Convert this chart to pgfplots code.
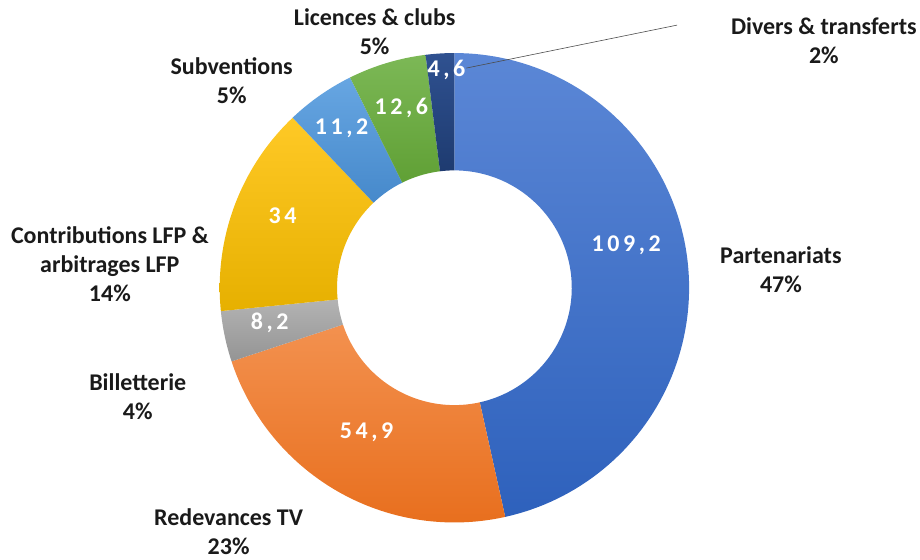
\documentclass[border=0pt]{standalone}
\usepackage{pgfplots}
\pgfplotsset{compat=1.18}
\usepackage{fontspec}
\setmainfont{Carlito}
\newfontfamily\valfont[LetterSpace=15]{Carlito}

\definecolor{partT}{HTML}{5B87D6}\definecolor{partB}{HTML}{2E61BC}
\definecolor{tvT}{HTML}{F3914F}\definecolor{tvB}{HTML}{E86F1E}
\definecolor{billT}{HTML}{B3B3B3}\definecolor{billB}{HTML}{949494}
\definecolor{lfpT}{HTML}{FFC926}\definecolor{lfpB}{HTML}{E6B000}
\definecolor{subT}{HTML}{67A6E2}\definecolor{subB}{HTML}{4689CB}
\definecolor{licT}{HTML}{7CB856}\definecolor{licB}{HTML}{60A035}
\definecolor{divT}{HTML}{2F5190}\definecolor{divB}{HTML}{1E3B70}
\definecolor{lbl}{HTML}{1A1A1A}

\tikzset{
  catlbl/.style={font=\fontsize{24bp}{29bp}\selectfont\bfseries, text=lbl, align=center},
  vallbl/.style={font=\valfont\fontsize{24bp}{28bp}\selectfont\bfseries, text=white},
}

% recettes (M EUR)
\def\vPart{109.2}
\def\vTV{54.9}
\def\vBill{8.2}
\def\vLFP{34}
\def\vSub{11.2}
\def\vLic{12.6}
\def\vDiv{4.6}
\pgfmathsetmacro\tot{\vPart+\vTV+\vBill+\vLFP+\vSub+\vLic+\vDiv}
\pgfmathsetmacro\aA{90}
\pgfmathsetmacro\aB{\aA-\vPart/\tot*360}
\pgfmathsetmacro\aC{\aB-\vTV/\tot*360}
\pgfmathsetmacro\aD{\aC-\vBill/\tot*360}
\pgfmathsetmacro\aE{\aD-\vLFP/\tot*360}
\pgfmathsetmacro\aF{\aE-\vSub/\tot*360}
\pgfmathsetmacro\aG{\aF-\vLic/\tot*360}
\pgfmathsetmacro\aH{\aG-\vDiv/\tot*360}
\def\Ro{1}
\def\Ri{0.5}

% ring segment from angle #1 to #2: outer arc (t=0..100), inner arc back (t=101..201)
\newcommand\ring[3]{%
  \addplot[#3, draw=none, variable=\t, samples at={0,1,...,201}]
    ({ifthenelse(\t<100.5,\Ro,\Ri)*cos(ifthenelse(\t<100.5,#1+(#2-#1)*\t/100,#2+(#1-#2)*(\t-101)/100))},
     {ifthenelse(\t<100.5,\Ro,\Ri)*sin(ifthenelse(\t<100.5,#1+(#2-#1)*\t/100,#2+(#1-#2)*(\t-101)/100))});
}

\begin{document}
\begin{tikzpicture}
\begin{axis}[
    x=235bp, y=235bp,
    xmin=-1.936, xmax=1.979,
    ymin=-1.157, ymax=1.226,
    hide axis,
    clip=false,
]
\path (rel axis cs:0,0) rectangle (rel axis cs:1,1);
\ring{\aA}{\aB}{top color=partT, bottom color=partB}
\ring{\aB}{\aC}{top color=tvT, bottom color=tvB}
\ring{\aC}{\aD}{top color=billT, bottom color=billB}
\ring{\aD}{\aE}{top color=lfpT, bottom color=lfpB}
\ring{\aE}{\aF}{top color=subT, bottom color=subB}
\ring{\aF}{\aG}{top color=licT, bottom color=licB}
\ring{\aG}{\aH}{top color=divT, bottom color=divB}

% leader line for the small slice
\addplot[black!70, line width=0.6pt] coordinates {(0.051,0.936) (0.949,1.119)};

% values
\node[vallbl] at (axis cs:0.732,0.179) {109,2};
\node[vallbl] at (axis cs:-0.374,-0.617) {54,9};
\node[vallbl] at (axis cs:-0.787,-0.149) {8,2};
\node[vallbl] at (axis cs:-0.732,0.306) {34};
\node[vallbl] at (axis cs:-0.481,0.681) {11,2};
\node[vallbl] at (axis cs:-0.226,0.766) {12,6};
\node[vallbl] at (axis cs:-0.034,0.928) {4,6};

% category labels
\node[catlbl] at (axis cs:1.391,0.077) {Partenariats\\47\%};
\node[catlbl] at (axis cs:-0.962,-1.038) {Redevances TV\\23\%};
\node[catlbl] at (axis cs:-1.349,-0.464) {Billetterie\\4\%};
\node[catlbl] at (axis cs:-1.468,0.102) {Contributions LFP \&\\arbitrages LFP\\14\%};
\node[catlbl] at (axis cs:-0.949,0.881) {Subventions\\5\%};
\node[catlbl] at (axis cs:-0.340,1.089) {Licences \& clubs\\5\%};
\node[catlbl] at (axis cs:1.574,1.051) {Divers \& transferts\\2\%};
\end{axis}
\end{tikzpicture}
\end{document}
